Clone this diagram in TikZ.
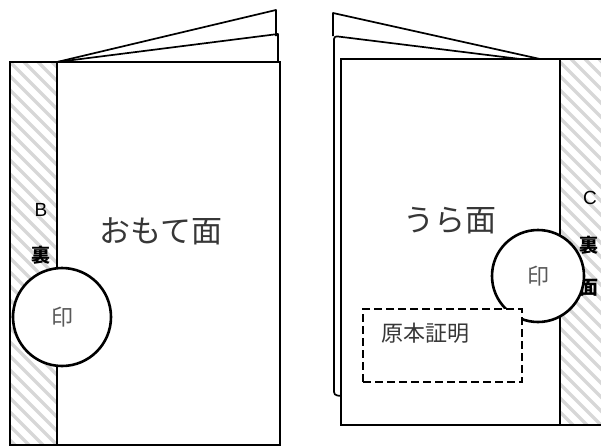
\documentclass[tikz,border=0pt]{standalone}
\usepackage{fontspec}
\setmainfont{Liberation Sans}
\newfontfamily\jpfont{Noto Sans CJK JP}
\usetikzlibrary{positioning}
\definecolor{hatchgray}{RGB}{215,215,215}
\definecolor{inkgray}{RGB}{55,55,55}
\tikzstyle{edge}   = [draw=black, line width=2pt]
\tikzstyle{fold}   = [draw=black, line width=1.7pt, line join=round]
\tikzstyle{hatch}  = [draw=hatchgray, line width=3.3pt]
\tikzstyle{stamp}  = [circle, draw=black, line width=2.6pt, fill=white, inner sep=0pt,
                      font=\jpfont\fontsize{22}{22}\selectfont, text=black!65]
\tikzstyle{title}  = [inner sep=0pt, font=\jpfont\fontsize{31}{31}\selectfont, text=inkgray]
\tikzstyle{side}   = [inner sep=0pt, font=\fontsize{19}{19}\selectfont]
\tikzstyle{sidejp} = [inner sep=0pt, font=\jpfont\bfseries\fontsize{19}{19}\selectfont]
\tikzstyle{proofbox} = [draw=black, line width=1.8pt, dash pattern=on 8pt off 4pt,
                        fill=white, minimum width=159pt, minimum height=73pt]

\begin{document}
\begin{tikzpicture}[x=1pt, y=-1pt]
  \useasboundingbox (0,0) rectangle (601,447);

  % left booklet: pages fanned out over the top
  \draw[fold] (57,62) -- (276,10) -- (276,36);
  \draw[fold] (57,62) -- (278,34) -- (278,62);
  \begin{scope}
    \clip (10,62) rectangle (57,445);
    \foreach \k in {-60,-46,...,460}
      \draw[hatch] (0,\k) -- (70,\k+70);
  \end{scope}
  \draw[edge, line width=2.8pt] (10,62) rectangle (280,445);
  \draw[edge] (57,62) -- (57,445);

  \node (frontL) [title]  at (161,231) {おもて面};
  \node (markB)  [side]   at (41,210)  {B};
  \node (backB)  [sidejp] at (41,255)  {裏};
  \node (stampL) [stamp, minimum size=98pt] at (62,317) {印};

  % right booklet: back pages peeking out on the left
  \draw[fold] (540,59) -- (333,13) -- (333,36);
  \draw[fold, rounded corners=3pt] (520,59) -- (334,36) -- (334,395) -- (341,396);
  \begin{scope}
    \clip (560,59) rectangle (601,425);
    \foreach \k in {-60,-46,...,460}
      \draw[hatch] (550,\k) -- (620,\k+70);
  \end{scope}
  \draw[edge] (603,59) -- (341,59) -- (341,425) -- (603,425);
  \draw[edge] (560,59) -- (560,425);

  \node (backR)  [title]  at (450,221) {うら面};
  \node (markC)  [side]   at (590,198) {C};
  \node (backC)  [sidejp] at (589,245) {裏};
  \node (faceC)  [sidejp] at (589,288) {面};
  \node (stampR) [stamp, minimum size=92pt] at (538,276) {印};

  \node (proof) [proofbox] at (442.5,345.5) {};
  \node (prooftext) [anchor=west, inner sep=0pt, text=inkgray,
                     font=\jpfont\fontsize{22}{22}\selectfont] at (381,333) {原本証明};
\end{tikzpicture}
\end{document}
